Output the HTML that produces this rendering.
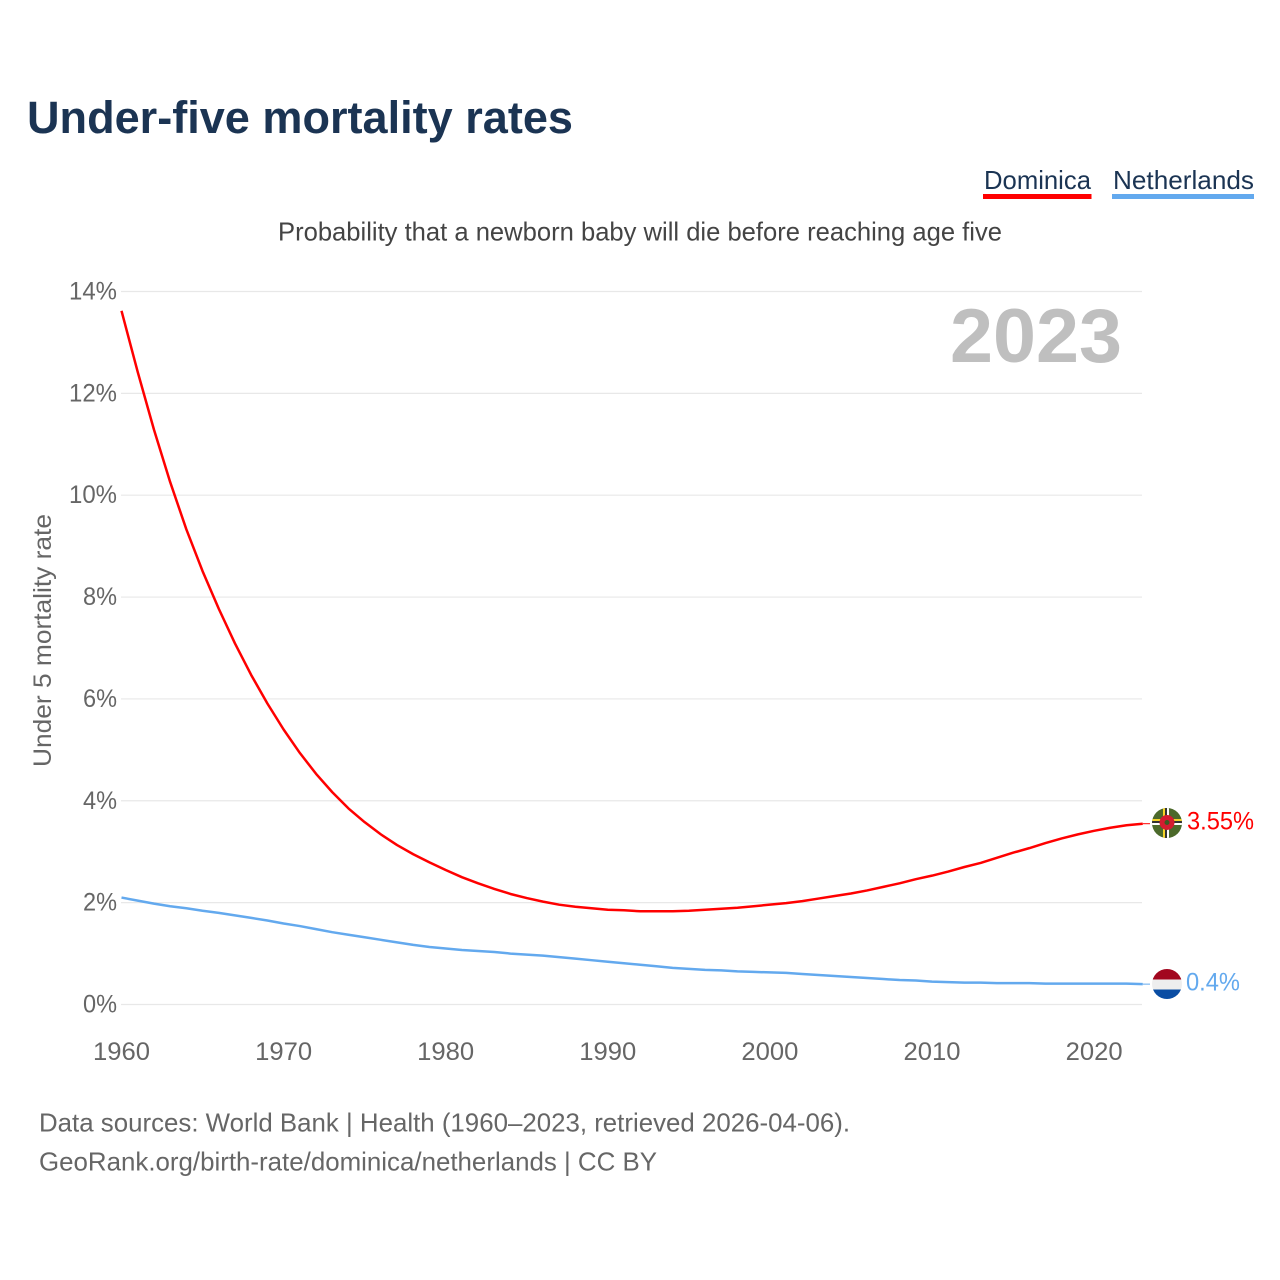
<!DOCTYPE html>
<html lang="en">
<head>
<meta charset="utf-8">
<title>Under-five mortality rates</title>
<style>
html,body{margin:0;padding:0;background:#fff;width:1280px;height:1280px;overflow:hidden}
svg{display:block}
text{font-family:"Liberation Sans",sans-serif}
</style>
</head>
<body>
<svg id="chart" width="1280" height="1280" viewBox="0 0 1280 1280" xmlns="http://www.w3.org/2000/svg">
  <defs>
    <clipPath id="clip-dm"><circle cx="1167" cy="823" r="15"/></clipPath>
    <clipPath id="clip-nl"><circle cx="1167" cy="984" r="15"/></clipPath>
  </defs>
  <text x="27" y="133" font-size="45" font-weight="700" fill="#1b3453" textLength="546" lengthAdjust="spacingAndGlyphs">Under-five mortality rates</text>

  <text x="984" y="189" font-size="26" fill="#1b3453" textLength="107" lengthAdjust="spacingAndGlyphs">Dominica</text>
  <rect x="983" y="194" width="108.500" height="5" fill="#ff0000"/>
  <text x="1113" y="189" font-size="26" fill="#1b3453" textLength="141" lengthAdjust="spacingAndGlyphs">Netherlands</text>
  <rect x="1112" y="194" width="142" height="5" fill="#63a9ee"/>

  <text x="278" y="240.500" font-size="26" fill="#444444" textLength="724" lengthAdjust="spacingAndGlyphs">Probability that a newborn baby will die before reaching age five</text>

  <g id="grid"></g>
  <g id="y-ticks"></g>
  <g id="x-ticks"></g>

  <text x="1122" y="362" font-size="76" font-weight="700" fill="#bfbfbf" text-anchor="end" textLength="172" lengthAdjust="spacingAndGlyphs">2023</text>

  <text transform="translate(51,767) rotate(-90)" font-size="25" fill="#666666" textLength="253" lengthAdjust="spacingAndGlyphs">Under 5 mortality rate</text>

  <g id="series"></g>

  <g clip-path="url(#clip-dm)">
    <rect x="1152" y="808" width="30" height="30" fill="#4c6a2b"/>
    <rect x="1163" y="808" width="2" height="30" fill="#f5d327"/>
    <rect x="1165" y="808" width="2" height="30" fill="#333333"/>
    <rect x="1167" y="808" width="2" height="30" fill="#ffffff"/>
    <rect x="1152" y="819" width="30" height="2" fill="#f5d327"/>
    <rect x="1152" y="821" width="30" height="2" fill="#333333"/>
    <rect x="1152" y="823" width="30" height="2" fill="#ffffff"/>
    <circle cx="1167" cy="822.500" r="7.500" fill="#d41c30"/>
    <circle cx="1167" cy="822.500" r="2.500" fill="#3c5a22"/>
  </g>
  <g clip-path="url(#clip-nl)">
    <rect x="1152" y="969" width="30" height="10.500" fill="#a2071f"/>
    <rect x="1152" y="979.500" width="30" height="10" fill="#eeeeee"/>
    <rect x="1152" y="989.500" width="30" height="10" fill="#0a4da3"/>
  </g>

  <text x="1187" y="829.500" font-size="25" fill="#ff0000" textLength="67" lengthAdjust="spacingAndGlyphs">3.55%</text>
  <text x="1186" y="990.500" font-size="25" fill="#63a9ee" textLength="54" lengthAdjust="spacingAndGlyphs">0.4%</text>

  <text x="39" y="1131.500" font-size="26" fill="#666666" textLength="811" lengthAdjust="spacingAndGlyphs">Data sources: World Bank | Health (1960–2023, retrieved 2026-04-06).</text>
  <text x="39" y="1170.500" font-size="26" fill="#666666" textLength="618" lengthAdjust="spacingAndGlyphs">GeoRank.org/birth-rate/dominica/netherlands | CC BY</text>
</svg>
<script>
const startYear = 1960;
const dominicaValues = [13.62,12.42,11.29,10.26,9.33,8.51,7.77,7.09,6.47,5.91,5.4,4.94,4.53,4.17,3.85,3.58,3.34,3.13,2.95,2.79,2.64,2.5,2.38,2.27,2.17,2.09,2.02,1.96,1.92,1.89,1.86,1.85,1.83,1.83,1.83,1.84,1.86,1.88,1.9,1.93,1.96,1.99,2.03,2.08,2.13,2.18,2.24,2.31,2.38,2.46,2.53,2.61,2.7,2.78,2.88,2.98,3.07,3.17,3.26,3.34,3.41,3.47,3.52,3.55];
const netherlandsValues = [2.1,2.04,1.98,1.93,1.89,1.84,1.8,1.75,1.7,1.65,1.59,1.54,1.48,1.42,1.37,1.32,1.27,1.22,1.17,1.13,1.1,1.07,1.05,1.03,1,0.98,0.96,0.93,0.9,0.87,0.84,0.81,0.78,0.75,0.72,0.7,0.68,0.67,0.65,0.64,0.63,0.62,0.6,0.58,0.56,0.54,0.52,0.5,0.48,0.47,0.45,0.44,0.43,0.43,0.42,0.42,0.42,0.41,0.41,0.41,0.41,0.41,0.41,0.4];
const yTickValues = [0,2,4,6,8,10,12,14];
const xTickYears = [1960,1970,1980,1990,2000,2010,2020];

const NS = 'http://www.w3.org/2000/svg';
const xScale = year => 121.5 + (year - 1960) * 16.21;
const yScale = value => 1004.5 - value * 50.93;

const gridGroup = document.getElementById('grid');
const yGroup = document.getElementById('y-ticks');
yTickValues.forEach(value => {
  const line = document.createElementNS(NS, 'line');
  
  
  line.setAttribute('x1', 121);
  line.setAttribute('x2', 1142);
  line.setAttribute('y1', yScale(value));
  line.setAttribute('y2', yScale(value));
  line.setAttribute('stroke', '#e8e8e8');
  line.setAttribute('stroke-width', 1.2);
  gridGroup.appendChild(line);
  const label = document.createElementNS(NS, 'text');
  
  
  label.setAttribute('x', 117);
  label.setAttribute('y', yScale(value) + 8);
  label.setAttribute('text-anchor', 'end');
  label.setAttribute('font-size', 25);
  label.setAttribute('fill', '#666666');
  label.setAttribute('textLength', String(value).length * 14 + 20);
  label.setAttribute('lengthAdjust', 'spacingAndGlyphs');
  label.textContent = value + '%';
  yGroup.appendChild(label);
});

const xGroup = document.getElementById('x-ticks');
xTickYears.forEach(year => {
  const label = document.createElementNS(NS, 'text');
  
  
  label.setAttribute('x', xScale(year));
  label.setAttribute('y', 1060);
  label.setAttribute('text-anchor', 'middle');
  label.setAttribute('font-size', 25);
  label.setAttribute('fill', '#666666');
  label.setAttribute('textLength', 57);
  label.setAttribute('lengthAdjust', 'spacingAndGlyphs');
  label.textContent = year;
  xGroup.appendChild(label);
});

function linePath(values) {
  return values.map((v, i) => (i ? 'L' : 'M') + xScale(startYear + i).toFixed(2) + ' ' + yScale(v).toFixed(2)).join(' ');
}
const seriesGroup = document.getElementById('series');

const dominicaLine = document.createElementNS(NS, 'path');


dominicaLine.setAttribute('d', linePath(dominicaValues));
dominicaLine.setAttribute('fill', 'none');
dominicaLine.setAttribute('stroke', '#ff0000');
dominicaLine.setAttribute('stroke-width', 2.5);
dominicaLine.setAttribute('stroke-linejoin', 'round');
seriesGroup.appendChild(dominicaLine);

const netherlandsLine = document.createElementNS(NS, 'path');


netherlandsLine.setAttribute('d', linePath(netherlandsValues));
netherlandsLine.setAttribute('fill', 'none');
netherlandsLine.setAttribute('stroke', '#63a9ee');
netherlandsLine.setAttribute('stroke-width', 2.5);
netherlandsLine.setAttribute('stroke-linejoin', 'round');
seriesGroup.appendChild(netherlandsLine);

const dominicaLeader = document.createElementNS(NS, 'line');


dominicaLeader.setAttribute('x1', xScale(2023));
dominicaLeader.setAttribute('x2', 1150);
dominicaLeader.setAttribute('y1', yScale(dominicaValues[dominicaValues.length - 1]));
dominicaLeader.setAttribute('y2', yScale(dominicaValues[dominicaValues.length - 1]));
dominicaLeader.setAttribute('stroke', '#ff0000');
dominicaLeader.setAttribute('stroke-width', 1);
seriesGroup.appendChild(dominicaLeader);

const netherlandsLeader = document.createElementNS(NS, 'line');


netherlandsLeader.setAttribute('x1', xScale(2023));
netherlandsLeader.setAttribute('x2', 1150);
netherlandsLeader.setAttribute('y1', yScale(netherlandsValues[netherlandsValues.length - 1]));
netherlandsLeader.setAttribute('y2', yScale(netherlandsValues[netherlandsValues.length - 1]));
netherlandsLeader.setAttribute('stroke', '#63a9ee');
netherlandsLeader.setAttribute('stroke-width', 1);
seriesGroup.appendChild(netherlandsLeader);
</script>
</body>
</html>
